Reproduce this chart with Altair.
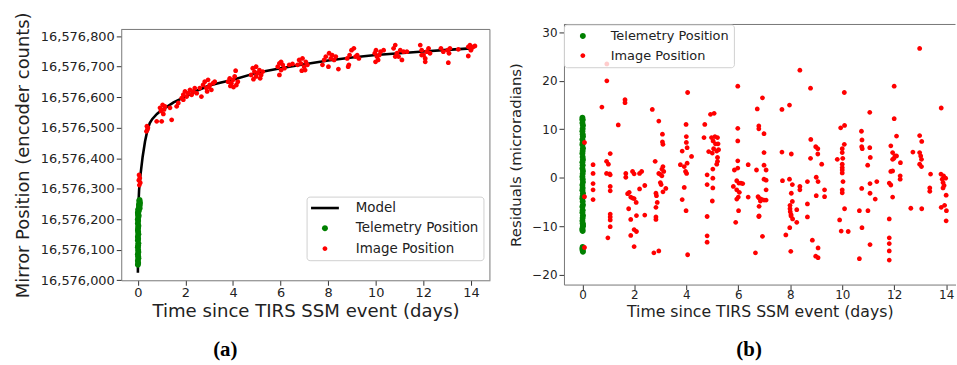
import altair as alt
import pandas as pd

FONT = "DejaVu Sans"
SERIF = "Liberation Serif"
GRAY = "#777777"
TXT = "#222222"

# ---------------- series definitions ----------------
series_names = ["Model", "Telemetry Position", "Image Position"]
series_colors = ["#000000", "#008000", "#ff0000"]
# symbol paths (unit = 6.75 px at size 182.25)
series_shapes = [
    "M-2.074,-0.193L2.074,-0.193L2.074,0.193L-2.074,0.193Z",
    "M-0.444,0A0.444,0.444,0,1,0,0.444,0A0.444,0.444,0,1,0,-0.444,0Z",
    "M-0.356,0A0.356,0.356,0,1,0,0.356,0A0.356,0.356,0,1,0,-0.356,0Z",
]
SYM = 182.25

# ---------------- panel (a) data ----------------
model_t = [0.0, 0.01, 0.02, 0.03, 0.05, 0.1, 0.2, 0.3, 0.4, 0.5, 0.6, 0.8, 1.0, 1.25,
           1.5, 2.0, 2.5, 3.0, 3.5, 4.0, 5.0, 6.0, 7.0, 8.0, 9.0, 10.0, 11.0, 12.0,
           13.0, 14.0, 14.1]
model_v = [16576025, 16576120, 16576210, 16576260, 16576295, 16576340, 16576405,
           16576455, 16576492, 16576515, 16576528, 16576545, 16576558, 16576570,
           16576583, 16576602, 16576622, 16576638, 16576648, 16576657, 16576680,
           16576695, 16576708, 16576720, 16576730, 16576738, 16576744, 16576750,
           16576755, 16576760, 16576761]

tel_a_t = [0.00, 0.01, 0.00, 0.02, 0.01, 0.00, 0.02, 0.01, 0.00, 0.01,
           0.02, 0.00, 0.01, 0.00, 0.02, 0.01, 0.00, 0.01, 0.02, 0.00,
           0.01, 0.00, 0.02, 0.01, 0.00, 0.03, 0.02, 0.01, 0.03, 0.02,
           0.06, 0.07, 0.05, 0.08, 0.06, 0.07, 0.05, 0.08, 0.06, 0.07]
tel_a_v = [16576051, 16576057, 16576064, 16576072, 16576079, 16576085, 16576093, 16576099, 16576108, 16576114,
           16576121, 16576130, 16576136, 16576143, 16576151, 16576158, 16576165, 16576172, 16576179, 16576186,
           16576194, 16576200, 16576207, 16576214, 16576221, 16576226, 16576230, 16576219, 16576212, 16576233,
           16576238, 16576244, 16576249, 16576255, 16576260, 16576263, 16576241, 16576252, 16576246, 16576235]

img_a_t = [0.05, 0.08, 0.04, 0.10, 0.06, 0.38, 0.40, 0.42, 0.36,
           0.79, 1.00, 0.93, 0.97, 1.04, 1.10, 1.07, 1.14, 1.35, 1.63, 1.70, 1.42,
           1.91, 1.98, 2.05, 2.12, 2.19, 2.26, 2.33, 1.91, 2.39, 2.47, 1.84, 2.67, 2.60,
           2.74, 2.81, 2.88, 2.95, 3.02, 3.09, 3.16, 2.91, 3.23, 2.99,
           3.79, 3.86, 3.93, 4.00, 4.07, 4.11, 4.14, 4.02, 4.20, 3.89,
           4.76, 4.83, 4.90, 4.97, 5.04, 5.11, 5.18, 5.25, 4.86, 5.14, 4.97,
           5.88, 5.95, 6.02, 5.95, 6.09, 6.02, 6.16, 6.36, 6.50,
           6.78, 6.85, 6.92, 6.99, 7.06, 6.89, 7.13, 6.71, 7.03,
           7.76, 7.83, 7.90, 8.04, 8.11, 8.17, 8.25, 8.01, 8.32, 8.43,
           8.80, 8.87, 8.90, 8.98, 9.08, 9.15, 9.22, 9.29, 8.84,
           9.96, 10.01, 10.05, 10.10, 10.15, 9.99, 10.20, 10.33,
           10.75, 10.82, 10.89, 10.96, 11.03, 11.10, 11.17, 10.82, 11.31,
           11.87, 11.93, 12.01, 12.08, 12.14, 12.08, 12.22, 11.93, 12.28,
           12.74, 12.84, 13.02, 13.08, 13.05, 13.12, 13.47,
           13.89, 13.96, 14.02, 14.10, 13.89, 14.00, 14.17]
img_a_v = [16576345, 16576335, 16576328, 16576320, 16576312, 16576505, 16576494, 16576500, 16576488,
           16576521, 16576521, 16576565, 16576555, 16576575, 16576560, 16576545, 16576570, 16576565, 16576570, 16576581, 16576526,
           16576608, 16576619, 16576602, 16576613, 16576624, 16576608, 16576619, 16576592, 16576630, 16576613, 16576597, 16576602, 16576630,
           16576640, 16576651, 16576630, 16576657, 16576640, 16576624, 16576646, 16576619, 16576651, 16576633,
           16576651, 16576662, 16576646, 16576657, 16576668, 16576687, 16576640, 16576633, 16576651, 16576637,
           16576673, 16576695, 16576684, 16576668, 16576679, 16576689, 16576673, 16576684, 16576659, 16576662, 16576700,
           16576700, 16576711, 16576689, 16576673, 16576706, 16576716, 16576695, 16576706, 16576709,
           16576722, 16576711, 16576727, 16576700, 16576716, 16576687, 16576706, 16576706, 16576689,
           16576706, 16576722, 16576733, 16576744, 16576727, 16576738, 16576722, 16576700, 16576733, 16576692,
           16576727, 16576706, 16576738, 16576754, 16576760, 16576733, 16576738, 16576727, 16576700,
           16576744, 16576754, 16576733, 16576722, 16576738, 16576716, 16576749, 16576754,
           16576760, 16576771, 16576744, 16576733, 16576754, 16576722, 16576749, 16576733, 16576749,
           16576771, 16576754, 16576738, 16576727, 16576749, 16576716, 16576760, 16576738, 16576744,
           16576760, 16576749, 16576754, 16576744, 16576713, 16576760, 16576757,
           16576765, 16576771, 16576760, 16576765, 16576735, 16576754, 16576768]

a_x_ticks = [0, 2, 4, 6, 8, 10, 12, 14]
a_y_ticks = [16576000, 16576100, 16576200, 16576300, 16576400, 16576500,
             16576600, 16576700, 16576800]

# ---------------- panel (b) data ----------------
tel_b_t = [0.00, 0.01, 0.00, 0.02, 0.01, 0.00, 0.01, 0.02, 0.00, 0.01,
           0.00, 0.02, 0.01, 0.00, 0.01, 0.02, 0.00, 0.01, 0.00, 0.02,
           0.01, 0.00, 0.01, 0.02, 0.00, 0.01, 0.00, 0.02, 0.01, 0.00,
           0.01, 0.02, 0.00, 0.01, 0.00, 0.02, 0.01, 0.00, 0.01, 0.02,
           0.00, 0.01, 0.00, 0.02, 0.01, 0.00, 0.01, 0.02, 0.01, 0.00]
tel_b_r = [12.4, 11.9, 11.3, 10.8, 10.1, 9.6, 9.0, 8.5, 7.9, 7.2,
           6.8, 6.1, 5.5, 5.0, 4.3, 3.7, 3.2, 2.6, 1.9, 1.4,
           0.8, 0.2, -0.3, -0.9, -1.5, -2.1, -2.6, -3.2, -3.8, -4.3,
           -4.9, -5.6, -6.0, -6.7, -7.2, -7.8, -8.3, -8.9, -9.4, -10.0,
           -10.5, -11.0, -10.8, -9.7, -14.3, -14.7, -15.0, -15.3, -14.5, 12.0]

img_b_t = [0.08, 0.08, 0.08, 0.94, 0.94, 0.75, 1.64, 1.64, 1.38, 2.69,
           2.94, 4.05, 3.99, 3.08, 3.08, 3.10, 4.00, 4.00, 4.03, 3.84,
           4.68, 4.71, 4.93, 5.07, 4.97, 5.10, 5.20, 5.03, 5.12, 5.22,
           5.05, 5.24, 5.98, 5.98, 5.98, 6.73, 6.79, 6.79, 1.07, 12.98,
           8.37, 8.78, 10.08, 12.00, 6.93, 7.68, 7.97, 11.06, 13.81, 12.00,
           6.99, 9.94, 10.09, 10.74, 8.79, 8.98, 9.06, 10.76, 12.09, 12.98,
           13.06, 10.08, 10.00, 10.75, 10.77, 11.06, 11.87, 6.99, 7.68, 8.04,
           9.06, 11.94, 12.72, 12.98, 0.41, 0.41, 0.41, 0.41, 0.41, 0.93,
           1.00, 0.93, 1.07, 1.05, 1.07, 1.07, 1.07, 1.07, 1.07, 1.07,
           0.98, 1.67, 1.67, 1.93, 1.99, 2.20, 2.28, 1.80, 1.74, 1.86,
           1.93, 1.99, 2.07, 2.20, 2.40, 1.78, 1.86, 2.08, 2.40, 1.99,
           2.08, 1.86, 1.99, 2.80, 3.10, 3.06, 2.94, 3.00, 3.06, 3.13,
           3.00, 3.03, 3.21, 3.10, 2.83, 2.85, 2.88, 2.83, 2.83, 2.83,
           2.75, 2.94, 3.77, 3.92, 4.03, 3.97, 4.01, 4.20, 3.92, 3.84,
           3.99, 4.05, 4.80, 4.80, 4.86, 5.00, 5.02, 5.02, 5.02, 5.17,
           5.20, 5.20, 5.17, 5.00, 4.80, 4.80, 4.80, 5.85, 5.98, 5.98,
           5.94, 6.02, 6.10, 6.17, 5.81, 5.94, 6.04, 6.00, 5.94, 5.90,
           6.01, 6.38, 6.70, 6.38, 6.76, 6.79, 6.66, 6.99, 7.07, 6.99,
           7.07, 7.07, 6.80, 6.88, 6.99, 7.07, 6.85, 6.80, 6.80, 6.93,
           7.70, 7.97, 8.08, 8.04, 8.08, 7.99, 7.99, 8.00, 8.03, 8.03,
           8.09, 8.25, 8.25, 7.98, 7.83, 8.02, 8.37, 8.37, 8.66, 8.66,
           8.66, 8.78, 9.21, 9.00, 9.07, 9.00, 9.32, 9.32, 8.85, 9.07,
           8.98, 9.07, 9.81, 10.00, 10.00, 10.00, 10.00, 10.03, 10.00, 10.00,
           10.00, 10.02, 10.09, 9.90, 9.96, 10.23, 11.08, 10.98, 11.07, 10.75,
           11.07, 11.27, 11.33, 10.66, 10.99, 10.76, 11.07, 10.66, 12.03, 11.94,
           12.09, 12.23, 12.23, 11.87, 11.94, 11.81, 11.87, 11.94, 11.81, 11.81,
           11.81, 11.81, 11.81, 13.02, 13.05, 12.98, 13.05, 12.64, 13.06, 13.40,
           13.37, 13.37, 13.80, 13.90, 13.85, 13.98, 13.88, 13.92, 13.88, 14.00,
           13.81, 13.94, 14.01, 14.00, 12.24, 11.99]
img_b_r = [7.3, -3.9, -14.4, 23.5, 20.0, 14.6, 16.1, 15.5, 10.9, 14.1,
           11.7, 17.6, 11.0, 9.0, 7.4, 6.9, 8.5, 7.3, 6.2, 5.5,
           8.3, 11.0, 13.1, 13.3, 8.3, 8.5, 8.3, 7.6, 7.0, 7.0,
           6.0, 5.8, 18.9, 10.2, 7.6, 14.2, 10.7, 10.1, 5.0, 26.7,
           22.2, 18.5, 17.6, 18.9, 16.5, 14.1, 15.0, 13.5, 14.4, 12.2,
           9.1, 10.3, 10.8, 9.6, 7.9, 6.4, 6.0, 7.8, 8.6, 8.7,
           7.5, 6.9, 6.0, 6.4, 6.0, 6.2, 6.6, 5.2, 5.3, 4.9,
           4.9, 5.2, 5.3, 5.2, 2.7, 0.9, -1.2, -2.5, -4.5, 3.4,
           2.8, 0.9, 0.6, 0.8, -1.8, -2.7, -7.5, -8.1, -8.7, -10.1,
           -12.4, 0.9, 0.1, 1.3, 0.8, 0.9, 1.3, -3.0, -3.3, -4.0,
           -4.2, -4.3, -5.1, -2.3, -1.6, -6.4, -8.6, -7.8, -7.7, -10.7,
           -11.1, -11.9, -14.2, 3.4, 2.3, 1.8, 0.9, 0.7, 0.4, 1.3,
           -1.0, -1.4, -2.2, -2.9, -3.2, -3.7, -5.1, -6.1, -8.1, -8.6,
           -15.5, -15.1, 2.7, 2.3, 3.0, 1.3, 0.9, 4.4, -2.0, -4.5,
           -6.8, -15.9, 0.6, -1.4, 5.4, 5.1, 1.8, -0.1, -2.1, 2.8,
           3.4, 4.2, 5.5, -4.8, -8.0, -12.0, -13.3, 1.6, 2.0, 3.5,
           -0.6, -1.1, -1.1, -1.2, -1.8, -2.5, -3.0, -4.0, -4.4, -9.2,
           -6.8, 2.7, 1.6, -4.0, -3.9, -8.0, -15.5, 2.6, 1.6, -0.3,
           -0.5, -2.5, -4.2, -4.4, -4.6, -4.6, -4.8, -5.9, -7.9, -12.1,
           -0.6, -0.3, -1.4, -3.2, -4.9, -5.7, -6.4, -7.0, -7.6, -7.9,
           -8.5, -6.6, -9.2, -10.3, -11.8, -15.2, -1.8, -2.5, -0.8, -5.4,
           -8.1, 4.0, 2.8, 0.1, -0.8, -3.7, -2.5, -3.9, -12.9, -14.5,
           -16.2, -16.5, 3.8, 2.8, 2.1, 1.6, 1.0, -0.8, -2.5, -3.1,
           5.2, 4.0, -6.4, -8.7, -11.0, -11.1, 4.2, 2.6, -1.2, -2.2,
           -3.2, -4.4, -0.8, -6.8, -6.8, -10.3, -13.8, -16.7, 4.5, 3.8,
           4.5, 0.4, -0.3, 1.3, 1.4, -1.1, -1.5, -4.0, -8.5, -12.4,
           -13.6, -15.1, -17.0, 4.5, 3.8, 2.8, 2.3, -6.3, -6.4, 0.75,
           -2.1, -2.8, 0.75, 0.4, -0.3, -0.1, -1.0, -1.6, -2.1, -3.6,
           -6.1, -5.7, -6.8, -8.9, 3.1, 4.0]

b_x_ticks = [0, 2, 4, 6, 8, 10, 12, 14]
b_y_ticks = [-20, -10, 0, 10, 20, 30]

captions = ["(a)", "(b)"]

# ---------------- panel (a) ----------------
A_W, A_H, A_TOP = 371, 257.4, 5
a_pts = pd.DataFrame({
    "t": tel_a_t + img_a_t,
    "v": tel_a_v + img_a_v,
    "series": [series_names[1]] * len(tel_a_t) + [series_names[2]] * len(img_a_t),
})
a_model = pd.DataFrame({"t": model_t, "v": model_v})

a_xscale = alt.Scale(domain=[-0.7, 14.8], nice=False, zero=False)
a_yscale = alt.Scale(domain=[16576000, 16576822], nice=False, zero=False, range=[A_H, A_TOP])
a_xaxis = alt.Axis(values=a_x_ticks, format="d", title="Time since TIRS SSM event (days)",
                   grid=False, domain=True, domainColor=GRAY, tickSize=5, tickColor="#333333",
                   labelFont=FONT, labelFontSize=13, labelColor=TXT, labelPadding=1,
                   labelFlush=False, titleFont=FONT, titleFontSize=18.2,
                   titleFontWeight="normal", titleColor=TXT, titlePadding=3)
a_yaxis = alt.Axis(values=a_y_ticks, format=",d", title="Mirror Position (encoder counts)",
                   grid=False, domain=True, domainColor=GRAY, tickSize=5, tickColor="#333333",
                   labelFont=FONT, labelFontSize=13, labelColor=TXT, labelPadding=2,
                   labelFlush=False, labelOverlap=False, titleFont=FONT, titleFontSize=18,
                   titleFontWeight="normal", titleColor=TXT, titlePadding=8)

def legend_a():
    return alt.Legend(title=None, orient="none", legendX=186.5, legendY=173.2,
                      symbolSize=SYM, symbolStrokeWidth=0, symbolOffset=7,
                      labelFont=FONT, labelFontSize=13.5, labelColor=TXT, labelOffset=24,
                      rowPadding=6.4, padding=4.5, strokeColor="#d0d0d0",
                      fillColor="rgba(255,255,255,0.8)", cornerRadius=3)

a_line = alt.Chart(a_model).mark_line(color="black", strokeWidth=2.6).encode(
    x=alt.X("t:Q", scale=a_xscale, axis=a_xaxis),
    y=alt.Y("v:Q", scale=a_yscale, axis=a_yaxis),
)
a_points = alt.Chart(a_pts).mark_point(filled=True, opacity=1, size=SYM, strokeWidth=0).encode(
    x=alt.X("t:Q", scale=a_xscale, axis=a_xaxis),
    y=alt.Y("v:Q", scale=a_yscale, axis=a_yaxis),
    color=alt.Color("series:N", scale=alt.Scale(domain=series_names, range=series_colors),
                    legend=legend_a()),
    shape=alt.Shape("series:N", scale=alt.Scale(domain=series_names, range=series_shapes),
                    legend=legend_a()),
)
a_frame_df = pd.DataFrame({"c": captions[:1]})
a_top = alt.Chart(a_frame_df).mark_rule(color=GRAY, strokeWidth=1).encode(
    x=alt.value(0), x2=alt.value(A_W), y=alt.value(A_TOP)
)
a_right = alt.Chart(a_frame_df).mark_rule(color=GRAY, strokeWidth=1).encode(
    x=alt.value(A_W), y=alt.value(A_TOP), y2=alt.value(A_H)
)
a_cap = alt.Chart(a_frame_df).mark_text(
    font=SERIF, fontSize=21, fontWeight="bold", color="black", align="center", baseline="middle"
).encode(text="c:N", x=alt.value(104.7), y=alt.value(327.7))

panel_a = alt.layer(a_line, a_points, a_top, a_right, a_cap).properties(width=A_W, height=A_H)

# ---------------- panel (b) ----------------
B_W, B_H = 394, 261.7
b_pts = pd.DataFrame({
    "t": tel_b_t + img_b_t,
    "r": tel_b_r + img_b_r,
    "series": [series_names[1]] * len(tel_b_t) + [series_names[2]] * len(img_b_t),
})
b_xscale = alt.Scale(domain=[-0.71, 14.36], nice=False, zero=False)
b_yscale = alt.Scale(domain=[-22.05, 31.64], nice=False, zero=False)
b_xaxis = alt.Axis(values=b_x_ticks, format="d", title="Time since TIRS SSM event (days)",
                   grid=False, domain=True, domainColor=GRAY, tickSize=5, tickColor="#333333",
                   labelFont=FONT, labelFontSize=12, labelColor=TXT, labelPadding=0,
                   labelFlush=False, titleFont=FONT, titleFontSize=15.8,
                   titleFontWeight="normal", titleColor=TXT, titlePadding=4)
b_yaxis = alt.Axis(values=b_y_ticks, format="d", title="Residuals (microradians)",
                   grid=False, domain=True, domainColor=GRAY, tickSize=5, tickColor="#333333",
                   labelFont=FONT, labelFontSize=12, labelColor=TXT, labelPadding=2,
                   labelFlush=False, labelOverlap=False, titleFont=FONT, titleFontSize=15,
                   titleFontWeight="normal", titleColor=TXT, titlePadding=8)

def legend_b():
    return alt.Legend(title=None, orient="none", legendX=0, legendY=0,
                      symbolSize=SYM, symbolStrokeWidth=0, symbolOffset=7.5,
                      labelFont=FONT, labelFontSize=13, labelColor=TXT, labelOffset=21,
                      rowPadding=5.8, padding=4.5, strokeColor="#d0d0d0",
                      fillColor="rgba(255,255,255,0.8)", cornerRadius=3)

b_points = alt.Chart(b_pts).mark_point(filled=True, opacity=1, size=SYM, strokeWidth=0).encode(
    x=alt.X("t:Q", scale=b_xscale, axis=b_xaxis),
    y=alt.Y("r:Q", scale=b_yscale, axis=b_yaxis),
    color=alt.Color("series:N", scale=alt.Scale(domain=series_names[1:], range=series_colors[1:]),
                    legend=legend_b()),
    shape=alt.Shape("series:N", scale=alt.Scale(domain=series_names[1:], range=series_shapes[1:]),
                    legend=legend_b()),
)
b_frame_df = pd.DataFrame({"c": captions[1:]})
b_top = alt.Chart(b_frame_df).mark_rule(color=GRAY, strokeWidth=1).encode(
    x=alt.value(0), x2=alt.value(B_W), y=alt.value(0)
)
b_cap = alt.Chart(b_frame_df).mark_text(
    font=SERIF, fontSize=21, fontWeight="bold", color="black", align="center", baseline="middle"
).encode(text="c:N", x=alt.value(186.3), y=alt.value(327.2))

panel_b = alt.layer(b_points, b_top, b_cap).properties(width=B_W, height=B_H)

chart = alt.hconcat(panel_a, panel_b, spacing=17.5).resolve_scale(
    x="independent", y="independent", color="independent", shape="independent"
).resolve_legend(color="independent", shape="independent").properties(
    padding={"left": 14, "top": 9.5, "right": 0, "bottom": 0},
    background="white",
).configure_view(stroke="transparent")

chart.save("out.html", embed_options={"renderer": "svg", "actions": False})
